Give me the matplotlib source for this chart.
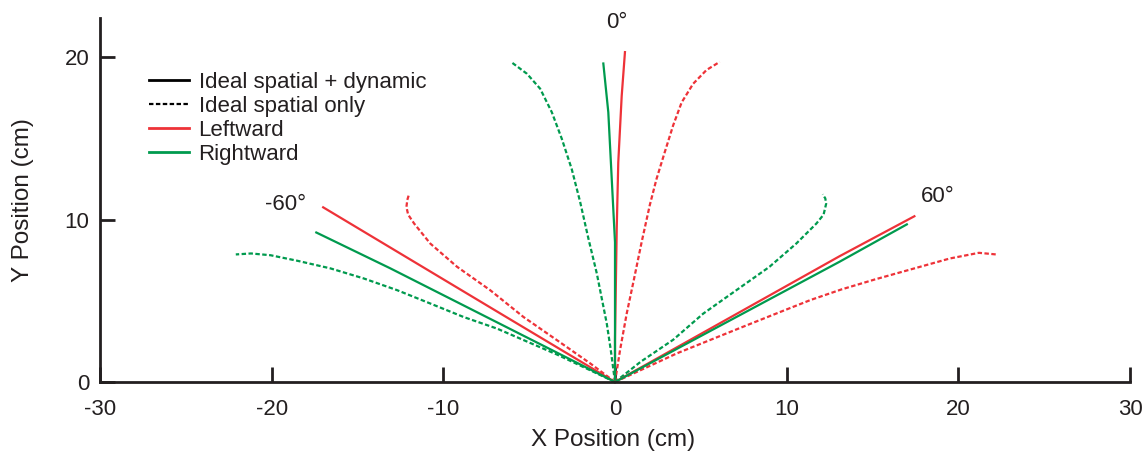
import matplotlib
matplotlib.use("Agg")
import matplotlib.pyplot as plt
from matplotlib.lines import Line2D

# ---- data (cm) ----
# 0 degree target
red0_solid_x = [0.0, 0.0, 0.1, 0.19, 0.39, 0.58]
red0_solid_y = [0.0, 2.6, 9.4, 13.5, 17.6, 20.3]
green0_solid_x = [0.0, 0.0, 0.0, -0.19, -0.39, -0.68]
green0_solid_y = [0.0, 2.6, 8.6, 12.5, 16.6, 19.6]
red0_dash_x = [0.0, 0.3, 0.68, 1.1, 1.55, 2.03, 2.42, 2.9, 3.39, 3.88, 4.55, 5.33, 6.1]
red0_dash_y = [0.0, 2.0, 4.2, 6.3, 8.6, 10.9, 12.5, 14.15, 15.8, 17.2, 18.35, 19.2, 19.7]
green0_dash_x = [0.0, -0.25, -0.48, -1.06, -1.55, -2.03, -2.52, -3.1, -3.68, -4.36, -5.13, -6.06]
green0_dash_y = [0.0, 2.0, 3.6, 6.68, 8.83, 11.08, 13.1, 14.97, 16.6, 18.05, 18.97, 19.7]

# -60 degree target
redm60_solid_x = [0.0, -6.1, -17.0]
redm60_solid_y = [0.0, 3.85, 10.75]
greenm60_solid_x = [0.0, -13.1, -17.4]
greenm60_solid_y = [0.0, 7.0, 9.2]
redm60_dash_x = [0.0, -1.45, -3.39, -5.33, -7.27, -9.2, -10.76, -11.7, -12.05, -12.15, -12.1, -12.0]
redm60_dash_y = [0.0, 1.15, 2.58, 4.0, 5.65, 7.09, 8.52, 9.75, 10.3, 10.77, 11.2, 11.55]
greenm60_dash_x = [0.0, -3.4, -6.88, -8.82, -10.76, -12.69, -14.63, -16.57, -18.5, -20.06, -21.2, -22.09]
greenm60_dash_y = [0.0, 1.7, 3.29, 4.0, 4.83, 5.65, 6.37, 6.99, 7.46, 7.8, 7.91, 7.85]

# +60 degree target
red60_solid_x = [0.0, 13.08, 17.44]
red60_solid_y = [0.0, 7.74, 10.2]
green60_solid_x = [0.0, 13.08, 17.0]
green60_solid_y = [0.0, 7.4, 9.7]
red60_dash_x = [0.0, 3.6, 7.46, 9.6, 11.4, 13.2, 15.2, 17.3, 19.5, 21.2, 22.2]
red60_dash_y = [0.0, 1.76, 3.4, 4.3, 5.05, 5.7, 6.33, 6.95, 7.6, 7.95, 7.85]
green60_dash_x = [0.0, 1.5, 3.39, 5.13, 7.07, 9.0, 10.56, 11.73, 12.15, 12.3, 12.25, 12.1]
green60_dash_y = [0.0, 1.25, 2.6, 4.2, 5.65, 7.09, 8.52, 9.75, 10.3, 10.97, 11.3, 11.55]

x_ticks = [-30, -20, -10, 0, 10, 20, 30]
y_ticks = [0, 10, 20]
target_labels = ["-60°", "0°", "60°"]
target_label_x = [-19.2, 0.1, 18.8]
target_label_y = [10.9, 22.1, 11.4]
legend_labels = ["Ideal spatial + dynamic", "Ideal spatial only", "Leftward", "Rightward"]

RED = "#EE3238"
GREEN = "#009A4E"
INK = "#231F20"

plt.rcParams["font.family"] = ["Liberation Sans", "DejaVu Sans"]

fig = plt.figure(figsize=(11.46, 4.59), dpi=100)
ax = fig.add_axes([100 / 1146, 77 / 459, 1030 / 1146, 364 / 459])

lw = 1.6
dash = (0, (2.0, 1.1))
solid_sets = [
    (red0_solid_x, red0_solid_y, RED), (green0_solid_x, green0_solid_y, GREEN),
    (redm60_solid_x, redm60_solid_y, RED), (greenm60_solid_x, greenm60_solid_y, GREEN),
    (red60_solid_x, red60_solid_y, RED), (green60_solid_x, green60_solid_y, GREEN),
]
dash_sets = [
    (red0_dash_x, red0_dash_y, RED), (green0_dash_x, green0_dash_y, GREEN),
    (redm60_dash_x, redm60_dash_y, RED), (greenm60_dash_x, greenm60_dash_y, GREEN),
    (red60_dash_x, red60_dash_y, RED), (green60_dash_x, green60_dash_y, GREEN),
]
for xs, ys, c in dash_sets:
    ax.plot(xs, ys, color=c, lw=lw, linestyle=dash, clip_on=False)
for xs, ys, c in solid_sets:
    ax.plot(xs, ys, color=c, lw=lw, clip_on=False)

for t, x, y in zip(target_labels, target_label_x, target_label_y):
    ax.text(x, y, t, fontsize=16, color=INK, ha="center", va="center")

ax.set_xlim(-30, 30)
ax.set_ylim(0, 22.4)
ax.set_xticks(x_ticks)
ax.set_yticks(y_ticks)
ax.set_xticklabels([str(v) for v in x_ticks])
ax.set_yticklabels([str(v) for v in y_ticks])
for s in ["top", "right"]:
    ax.spines[s].set_visible(False)
for s in ["left", "bottom"]:
    ax.spines[s].set_linewidth(2)
    ax.spines[s].set_color(INK)
ax.tick_params(axis="both", direction="in", length=11, width=2, color=INK,
               labelsize=16, labelcolor=INK)
ax.tick_params(axis="x", pad=12)
ax.tick_params(axis="y", pad=7.5)

ax.set_xlabel("X Position (cm)", fontsize=17.5, color=INK)
ax.set_ylabel("Y Position (cm)", fontsize=17.5, color=INK)
ax.xaxis.set_label_coords(0.4985, -0.128)
ax.yaxis.set_label_coords(-0.064, 0.5)

handles = [
    Line2D([], [], color="black", lw=2),
    Line2D([], [], color="black", lw=1.6, linestyle=dash),
    Line2D([], [], color=RED, lw=2),
    Line2D([], [], color=GREEN, lw=2),
]
ax.legend(handles, legend_labels, loc="upper left", bbox_to_anchor=(0.032, 0.895),
          frameon=False, fontsize=16, handlelength=1.8, handletextpad=0.45,
          labelspacing=0.14, borderpad=0.2, labelcolor=INK)

fig.savefig("out.png", dpi=100)
